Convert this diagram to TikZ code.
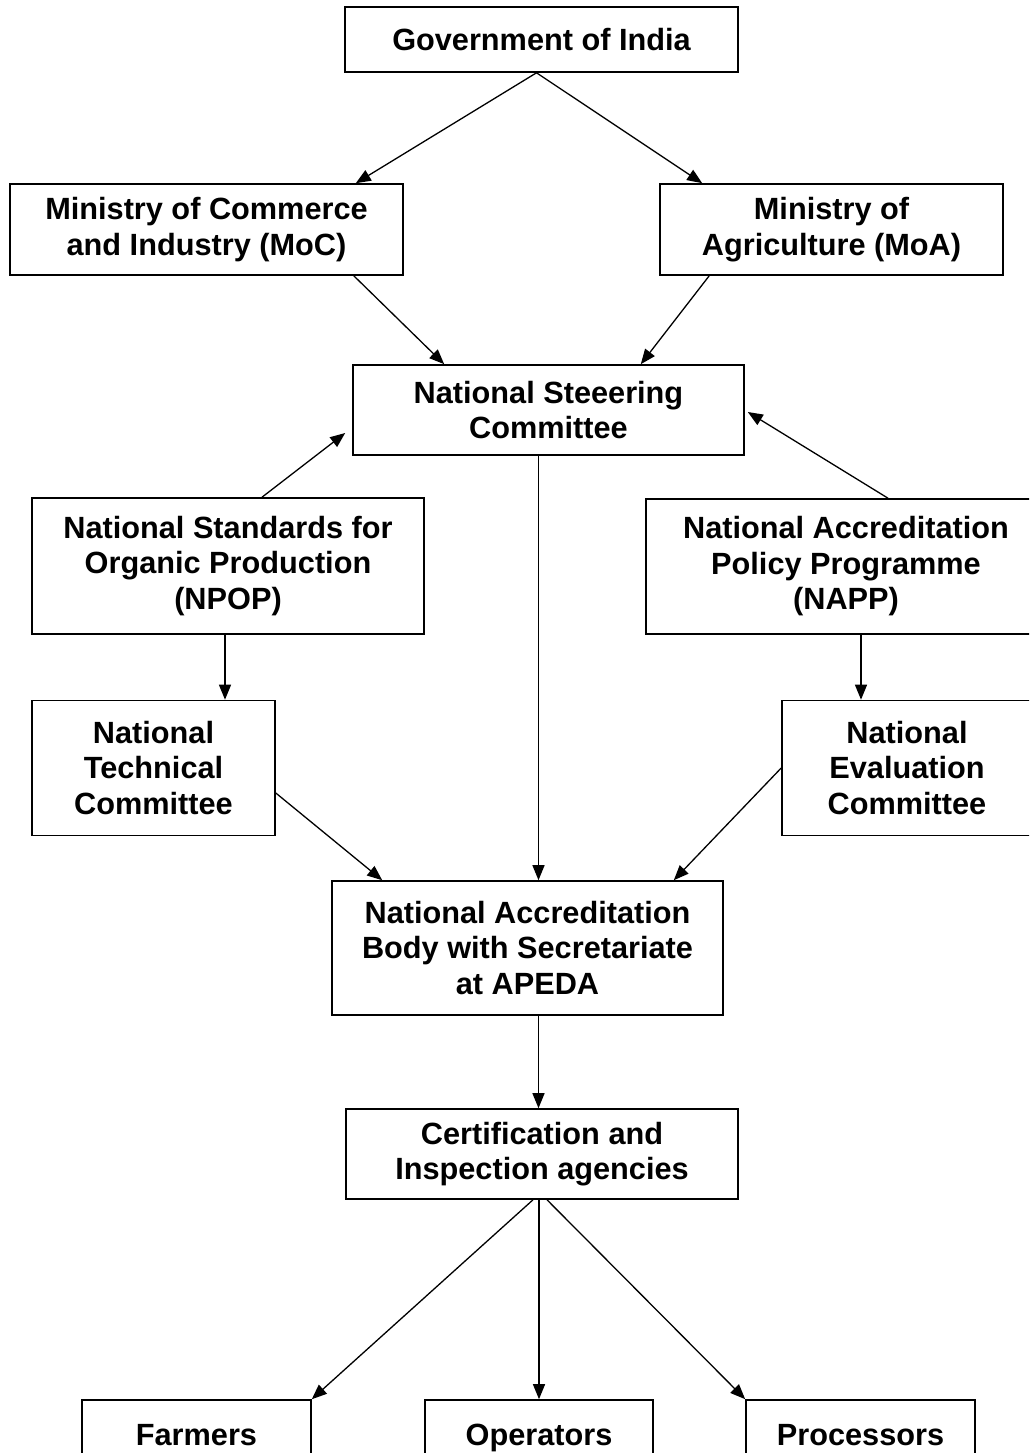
\documentclass[tikz,border=0pt]{standalone}
\usepackage{fontspec}
\setmainfont{Liberation Sans}
\usetikzlibrary{arrows.meta}
\begin{document}
\begin{tikzpicture}[x=1pt,y=-1pt,%
        every node/.style={font=\fontsize{30.7}{35.5}\selectfont\bfseries,align=center},%
        box/.style={draw=black,line width=1.6pt,inner sep=0pt},%
        leaf/.style={box,minimum height=74pt,text height=22pt,text depth=6pt},%
        arr/.style={line width=1.3pt,-{Triangle[length=15pt,width=12pt]}}]%
        \useasboundingbox (0,0) rectangle (1029,1453);
        \clip (0,0) rectangle (1029,1453);
        \node[box,minimum width=393pt,minimum height=65pt] (gov) at (541.5,39.5) {Government of India};
        \node[box,minimum width=393pt,minimum height=91pt] (moc) at (206.5,229.5) {Ministry of Commerce\\and Industry (MoC)};
        \node[box,minimum width=343pt,minimum height=91pt] (moa) at (831.5,229.5) {Ministry of\\Agriculture (MoA)};
        \node[box,minimum width=391pt,minimum height=90pt] (nsc) at (548.5,410) {National Steeering\\Committee};
        \node[box,minimum width=392pt,minimum height=136pt] (npop) at (228,566) {National Standards for\\Organic Production\\(NPOP)};
        \node[box,minimum width=400pt,minimum height=135pt] (napp) at (846,566.5) {National Accreditation\\Policy Programme\\(NAPP)};
        \node[box,minimum width=243pt,minimum height=135pt] (ntc) at (153.5,768) {National\\Technical\\Committee};
        \node[box,minimum width=250pt,minimum height=135pt] (nec) at (907,768) {National\\Evaluation\\Committee};
        \node[box,minimum width=391pt,minimum height=134pt] (nab) at (527.5,948) {National Accreditation\\Body with Secretariate\\at APEDA};
        \node[box,minimum width=392pt,minimum height=90pt] (cia) at (542,1154) {Certification and\\Inspection agencies};
        \node[leaf,minimum width=229pt] (farm) at (196.5,1437) {Farmers};
        \node[leaf,minimum width=228pt] (oper) at (539,1437) {Operators};
        \node[leaf,minimum width=229pt] (proc) at (860.5,1437) {Processors};
        \draw[arr] ([xshift=-5]gov.south) -- ([xshift=-48]moc.north east);
        \draw[arr] ([xshift=-5]gov.south) -- ([xshift=43]moa.north west);
        \draw[arr] ([xshift=-50]moc.south east) -- ([xshift=92]nsc.north west);
        \draw[arr] ([xshift=50]moa.south west) -- ([xshift=-104]nsc.north east);
        \draw[arr] ([xshift=34]npop.north) -- ([xshift=-7,yshift=-23]nsc.west);
        \draw[arr] ([xshift=42]napp.north) -- ([xshift=3,yshift=-2]nsc.east);
        \draw[arr] ([xshift=-10]nsc.south) -- ([xshift=11]nab.north);
        \draw[arr] ([xshift=-3]npop.south) -- ([xshift=-3]npop.south |- ntc.north);
        \draw[arr] ([xshift=15]napp.south) -- ([xshift=15]napp.south |- nec.north);
        \draw[arr] ([yshift=-25]ntc.east) -- ([xshift=51]nab.north west);
        \draw[arr] (nec.west) -- ([xshift=-50]nab.north east);
        \draw[arr] ([xshift=11]nab.south) -- ([xshift=11]nab.south |- cia.north);
        \draw[arr] ([xshift=-9]cia.south) -- (farm.north east);
        \draw[arr] ([xshift=-3]cia.south) -- (oper.north);
        \draw[arr] ([xshift=5]cia.south) -- (proc.north west);
      \end{tikzpicture}
\end{document}
